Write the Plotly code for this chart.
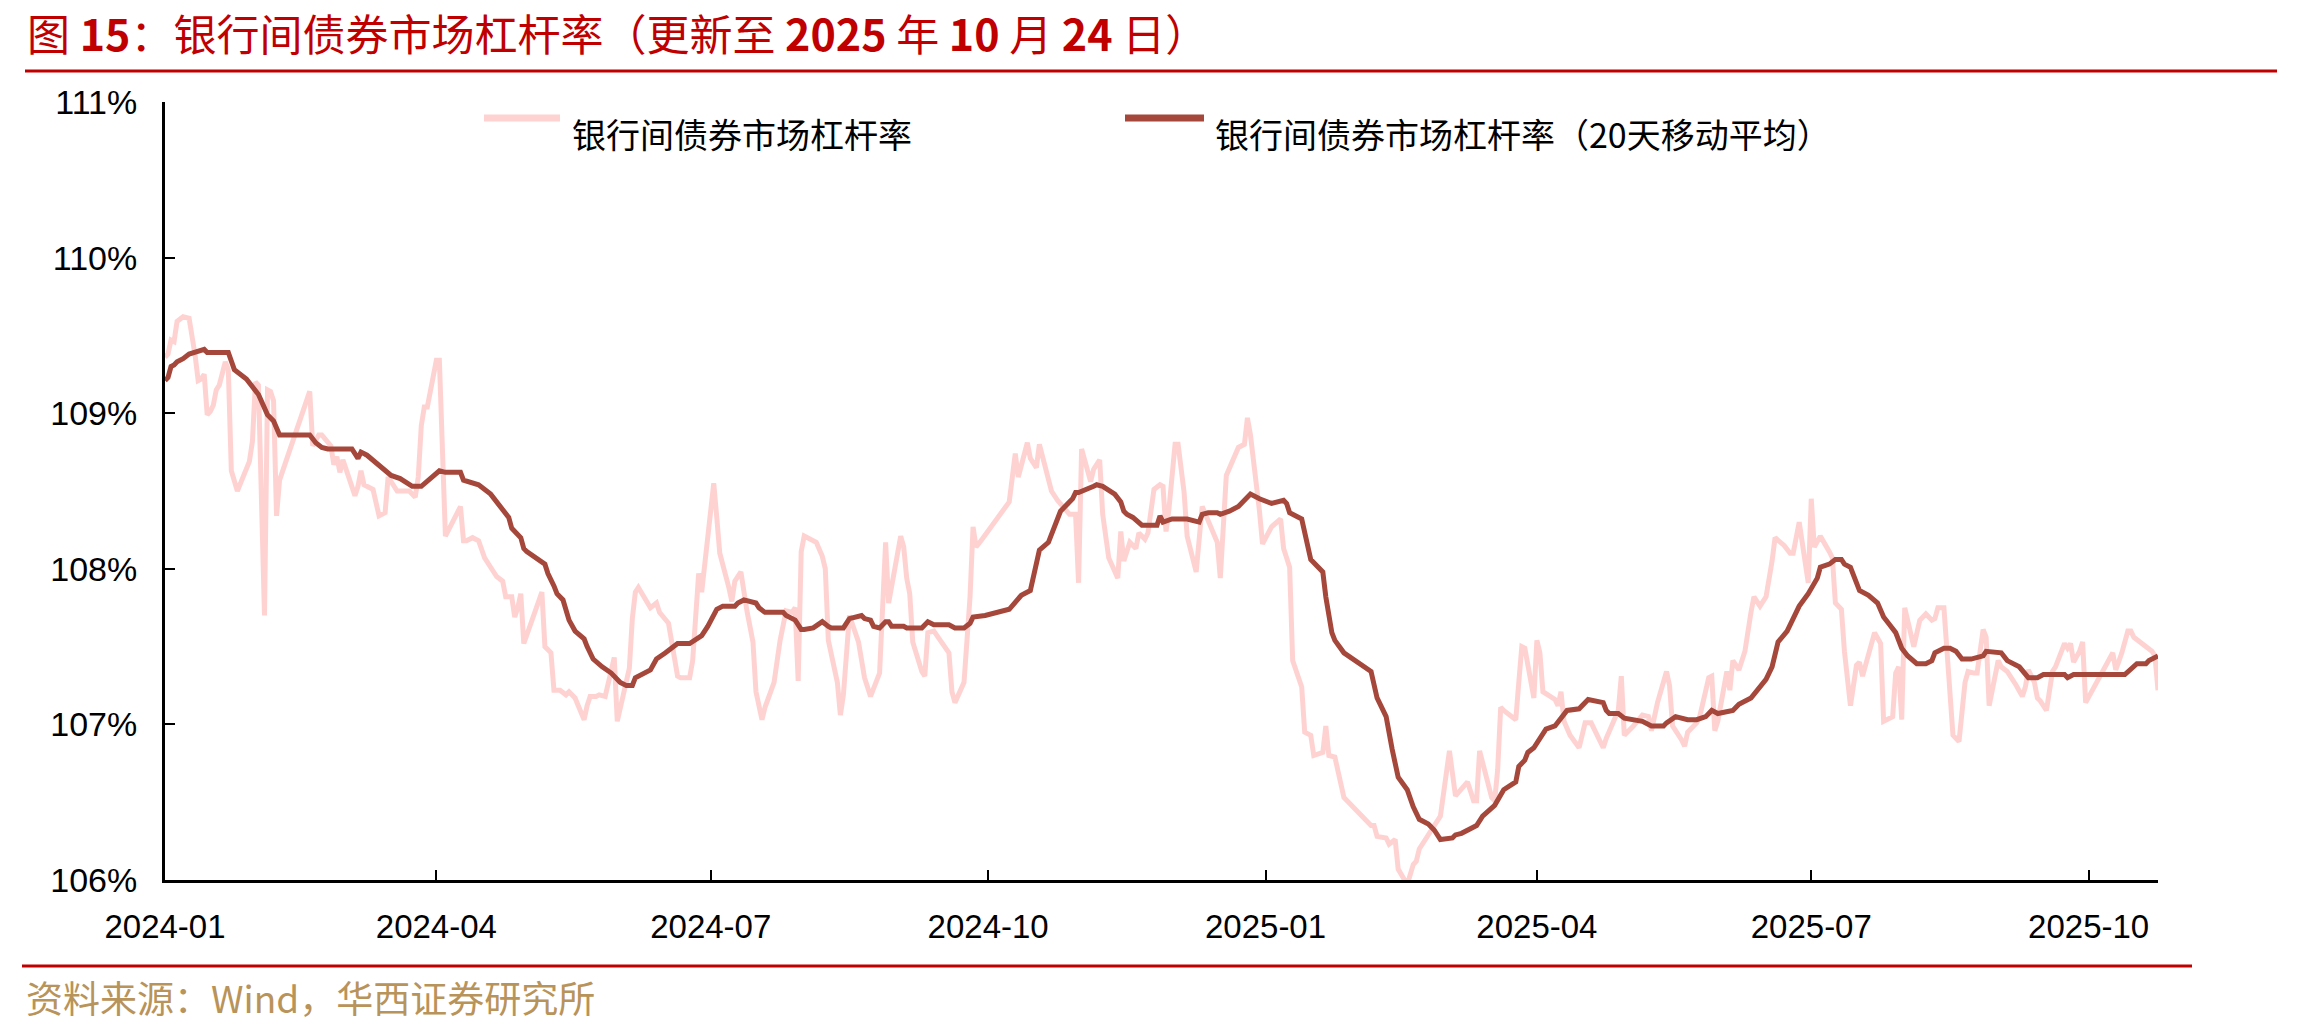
import plotly.graph_objects as go

# ---------------- data ----------------
raw_dates = [
    "2024-01-02","2024-01-03","2024-01-04","2024-01-05","2024-01-06","2024-01-08","2024-01-10","2024-01-11",
    "2024-01-12","2024-01-13","2024-01-14","2024-01-15","2024-01-16","2024-01-17","2024-01-18","2024-01-19",
    "2024-01-20","2024-01-22","2024-01-23","2024-01-24","2024-01-26","2024-01-30","2024-01-31","2024-02-01",
    "2024-02-02","2024-02-04","2024-02-05","2024-02-06","2024-02-07","2024-02-08","2024-02-09","2024-02-19",
    "2024-02-20","2024-02-22","2024-02-23","2024-02-26","2024-02-27","2024-02-28","2024-02-29","2024-03-01",
    "2024-03-05","2024-03-06","2024-03-07","2024-03-08","2024-03-11","2024-03-13","2024-03-15","2024-03-16",
    "2024-03-19","2024-03-21","2024-03-23","2024-03-25","2024-03-26","2024-03-27","2024-03-28","2024-03-29",
    "2024-04-01","2024-04-02","2024-04-04","2024-04-09","2024-04-10","2024-04-11","2024-04-13","2024-04-15",
    "2024-04-17","2024-04-19","2024-04-21","2024-04-23","2024-04-24","2024-04-26","2024-04-27","2024-04-28",
    "2024-04-29","2024-04-30","2024-05-06","2024-05-07","2024-05-09","2024-05-10","2024-05-12","2024-05-14",
    "2024-05-15","2024-05-17","2024-05-20","2024-05-21","2024-05-22","2024-05-24","2024-05-25","2024-05-27",
    "2024-05-29","2024-05-30","2024-05-31","2024-06-04","2024-06-05","2024-06-06","2024-06-07","2024-06-11",
    "2024-06-13","2024-06-14","2024-06-17","2024-06-18","2024-06-20","2024-06-21","2024-06-24","2024-06-25",
    "2024-06-26","2024-06-27","2024-06-28","2024-06-30","2024-07-02","2024-07-03","2024-07-04","2024-07-07",
    "2024-07-08","2024-07-09","2024-07-11","2024-07-13","2024-07-15","2024-07-16","2024-07-18","2024-07-19",
    "2024-07-22","2024-07-24","2024-07-26","2024-07-28","2024-07-29","2024-07-30","2024-07-31","2024-08-01",
    "2024-08-05","2024-08-07","2024-08-08","2024-08-09","2024-08-12","2024-08-13","2024-08-14","2024-08-16",
    "2024-08-19","2024-08-21","2024-08-23","2024-08-26","2024-08-28","2024-08-29","2024-09-02","2024-09-03",
    "2024-09-04","2024-09-05","2024-09-06","2024-09-09","2024-09-10","2024-09-11","2024-09-13","2024-09-18",
    "2024-09-19","2024-09-20","2024-09-23","2024-09-25","2024-09-26","2024-09-27","2024-09-29","2024-10-08",
    "2024-10-10","2024-10-11","2024-10-14","2024-10-15","2024-10-17","2024-10-18","2024-10-20","2024-10-21",
    "2024-10-22","2024-10-24","2024-10-28","2024-10-30","2024-10-31","2024-11-01","2024-11-04","2024-11-05",
    "2024-11-07","2024-11-08","2024-11-10","2024-11-13","2024-11-14","2024-11-15","2024-11-17","2024-11-19",
    "2024-11-20","2024-11-22","2024-11-23","2024-11-25","2024-11-27","2024-11-28","2024-11-29","2024-11-30",
    "2024-12-02","2024-12-03","2024-12-05","2024-12-06","2024-12-09","2024-12-11","2024-12-16","2024-12-17",
    "2024-12-19","2024-12-23","2024-12-25","2024-12-26","2024-12-27","2024-12-30","2024-12-31","2025-01-03",
    "2025-01-06","2025-01-07","2025-01-09","2025-01-10","2025-01-13","2025-01-14","2025-01-16","2025-01-17",
    "2025-01-20","2025-01-21","2025-01-22","2025-01-24","2025-01-27","2025-02-05","2025-02-06","2025-02-07",
    "2025-02-10","2025-02-11","2025-02-13","2025-02-14","2025-02-17","2025-02-19","2025-02-20","2025-02-21",
    "2025-02-26","2025-02-28","2025-03-03","2025-03-05","2025-03-09","2025-03-11","2025-03-12","2025-03-13",
    "2025-03-17","2025-03-18","2025-03-19","2025-03-20","2025-03-21","2025-03-25","2025-03-26","2025-03-27",
    "2025-03-28","2025-03-31","2025-04-01","2025-04-02","2025-04-03","2025-04-07","2025-04-08","2025-04-09",
    "2025-04-10","2025-04-11","2025-04-12","2025-04-15","2025-04-16","2025-04-17","2025-04-19","2025-04-23",
    "2025-04-24","2025-04-28","2025-04-29","2025-04-30","2025-05-03","2025-05-06","2025-05-08","2025-05-09",
    "2025-05-11","2025-05-13","2025-05-14","2025-05-15","2025-05-16","2025-05-19","2025-05-20","2025-05-21",
    "2025-05-24","2025-05-25","2025-05-27","2025-05-28","2025-05-29","2025-05-30","2025-05-31","2025-06-03",
    "2025-06-04","2025-06-05","2025-06-07","2025-06-09","2025-06-11","2025-06-12","2025-06-14","2025-06-16",
    "2025-06-18","2025-06-19","2025-06-22","2025-06-24","2025-06-25","2025-06-27","2025-06-30","2025-07-01",
    "2025-07-02","2025-07-04","2025-07-07","2025-07-08","2025-07-09","2025-07-11","2025-07-12","2025-07-14",
    "2025-07-16","2025-07-17","2025-07-18","2025-07-22","2025-07-24","2025-07-25","2025-07-28","2025-07-29",
    "2025-07-30","2025-07-31","2025-08-01","2025-08-04","2025-08-06","2025-08-08","2025-08-10","2025-08-11",
    "2025-08-12","2025-08-14","2025-08-17","2025-08-19","2025-08-21","2025-08-22","2025-08-24","2025-08-25",
    "2025-08-27","2025-08-28","2025-08-29","2025-09-01","2025-09-02","2025-09-04","2025-09-07","2025-09-09",
    "2025-09-10","2025-09-11","2025-09-13","2025-09-14","2025-09-15","2025-09-17","2025-09-19","2025-09-20",
    "2025-09-23","2025-09-24","2025-09-25","2025-09-26","2025-09-28","2025-09-29","2025-09-30","2025-10-09",
    "2025-10-10","2025-10-12","2025-10-14","2025-10-15","2025-10-16","2025-10-18","2025-10-20","2025-10-22",
    "2025-10-23","2025-10-24",
]
raw_values = [
    109.36,109.38,109.47,109.46,109.59,109.62,109.61,109.51,
    109.37,109.21,109.22,109.25,108.99,109.01,109.05,109.15,
    109.18,109.33,109.28,108.63,108.50,108.69,108.82,109.20,
    109.18,107.70,109.15,109.14,109.08,108.34,108.57,109.14,
    108.79,108.86,108.86,108.79,108.67,108.72,108.62,108.70,
    108.47,108.53,108.63,108.54,108.51,108.34,108.36,108.59,
    108.50,108.50,108.50,108.46,108.59,108.92,109.04,109.04,
    109.34,109.34,108.21,108.40,108.18,108.18,108.20,108.18,
    108.07,108.01,107.95,107.92,107.82,107.82,107.69,107.75,
    107.84,107.52,107.85,107.50,107.46,107.22,107.22,107.19,
    107.21,107.17,107.03,107.12,107.18,107.18,107.19,107.18,
    107.33,107.43,107.02,107.36,107.68,107.85,107.88,107.75,
    107.78,107.72,107.65,107.53,107.31,107.30,107.30,107.41,
    107.65,107.97,107.85,108.20,108.55,108.33,108.10,107.88,
    107.79,107.92,107.98,107.73,107.53,107.21,107.03,107.11,
    107.27,107.54,107.73,107.72,107.75,107.28,108.11,108.21,
    108.17,108.08,108.00,107.54,107.27,107.06,107.19,107.70,
    107.53,107.30,107.18,107.33,108.17,107.78,108.21,108.14,
    107.94,107.84,107.53,107.34,107.31,107.59,107.60,107.46,
    107.21,107.14,107.27,107.82,108.27,108.14,108.19,108.43,
    108.74,108.59,108.81,108.71,108.65,108.80,108.65,108.60,
    108.50,108.44,108.35,108.35,107.91,108.77,108.56,108.64,
    108.70,108.35,108.07,107.94,108.24,108.05,108.17,108.13,
    108.23,108.19,108.23,108.51,108.54,108.53,108.24,108.39,
    108.80,108.80,108.49,108.21,107.98,108.40,108.17,107.94,
    108.60,108.78,108.80,108.97,108.86,108.37,108.16,108.27,
    108.32,108.13,108.01,107.41,107.24,106.95,106.93,106.80,
    106.82,106.99,106.80,106.79,106.53,106.35,106.35,106.28,
    106.27,106.23,106.26,106.07,105.97,106.10,106.12,106.20,
    106.36,106.41,106.83,106.54,106.63,106.51,106.51,106.83,
    106.53,106.51,106.71,107.11,107.09,107.03,107.27,107.50,
    107.49,107.17,107.54,107.46,107.21,107.16,107.12,107.21,
    107.02,106.98,106.93,106.85,106.95,107.01,107.01,106.85,
    106.91,107.09,107.31,106.93,106.99,107.06,107.05,106.96,
    107.14,107.28,107.34,107.25,106.99,106.90,106.86,106.95,
    107.01,107.05,107.21,107.30,107.31,106.96,107.02,107.34,
    107.22,107.41,107.35,107.47,107.72,107.82,107.76,107.82,
    108.05,108.20,108.15,108.10,108.10,108.30,107.91,108.45,
    108.14,108.21,108.11,108.07,107.78,107.74,107.47,107.12,
    107.38,107.40,107.31,107.59,107.52,107.02,107.05,107.33,
    107.37,107.03,107.75,107.50,107.67,107.71,107.67,107.68,
    107.75,107.75,106.93,106.89,107.27,107.34,107.33,107.33,
    107.61,107.56,107.12,107.41,107.37,107.34,107.25,107.18,
    107.24,107.35,107.27,107.17,107.15,107.09,107.34,107.37,
    107.52,107.49,107.52,107.40,107.47,107.53,107.14,107.46,
    107.35,107.46,107.60,107.60,107.56,107.53,107.49,107.47,
    107.44,107.22,
]

ma_dates = [
    "2024-01-02","2024-01-03","2024-01-04","2024-01-05","2024-01-06","2024-01-08","2024-01-10","2024-01-14",
    "2024-01-15","2024-01-16","2024-01-23","2024-01-25","2024-01-29","2024-01-31","2024-02-02","2024-02-05",
    "2024-02-07","2024-02-09","2024-02-19","2024-02-21","2024-02-23","2024-02-25","2024-03-04","2024-03-06",
    "2024-03-07","2024-03-09","2024-03-13","2024-03-15","2024-03-17","2024-03-20","2024-03-22","2024-03-24",
    "2024-03-27","2024-04-02","2024-04-04","2024-04-09","2024-04-10","2024-04-13","2024-04-15","2024-04-19",
    "2024-04-21","2024-04-23","2024-04-25","2024-04-26","2024-04-29","2024-04-30","2024-05-01","2024-05-07",
    "2024-05-08","2024-05-10","2024-05-11","2024-05-13","2024-05-15","2024-05-17","2024-05-20","2024-05-21",
    "2024-05-23","2024-05-26","2024-05-29","2024-06-01","2024-06-03","2024-06-05","2024-06-06","2024-06-11",
    "2024-06-13","2024-06-16","2024-06-20","2024-06-24","2024-06-28","2024-06-30","2024-07-02","2024-07-03",
    "2024-07-05","2024-07-09","2024-07-10","2024-07-12","2024-07-16","2024-07-17","2024-07-19","2024-07-25",
    "2024-07-26","2024-07-29","2024-07-31","2024-08-01","2024-08-04","2024-08-07","2024-08-09","2024-08-10",
    "2024-08-13","2024-08-14","2024-08-16","2024-08-20","2024-08-21","2024-08-23","2024-08-24","2024-08-26",
    "2024-08-28","2024-08-29","2024-08-30","2024-09-03","2024-09-04","2024-09-09","2024-09-11","2024-09-13",
    "2024-09-18","2024-09-20","2024-09-23","2024-09-25","2024-09-26","2024-09-30","2024-10-08","2024-10-10",
    "2024-10-12","2024-10-15","2024-10-17","2024-10-18","2024-10-21","2024-10-25","2024-10-29","2024-10-30",
    "2024-10-31","2024-11-03","2024-11-05","2024-11-06","2024-11-08","2024-11-12","2024-11-14","2024-11-15",
    "2024-11-16","2024-11-18","2024-11-20","2024-11-21","2024-11-26","2024-11-27","2024-11-28","2024-12-01",
    "2024-12-06","2024-12-10","2024-12-11","2024-12-13","2024-12-16","2024-12-17","2024-12-20","2024-12-23",
    "2024-12-27","2024-12-30","2025-01-03","2025-01-07","2025-01-08","2025-01-09","2025-01-13","2025-01-14",
    "2025-01-16","2025-01-20","2025-01-21","2025-01-23","2025-01-24","2025-01-27","2025-02-05","2025-02-07",
    "2025-02-10","2025-02-12","2025-02-14","2025-02-17","2025-02-19","2025-02-21","2025-02-24","2025-02-26",
    "2025-02-28","2025-03-04","2025-03-05","2025-03-07","2025-03-10","2025-03-12","2025-03-14","2025-03-16",
    "2025-03-18","2025-03-21","2025-03-25","2025-03-26","2025-03-28","2025-03-29","2025-03-31","2025-04-04",
    "2025-04-07","2025-04-11","2025-04-15","2025-04-18","2025-04-23","2025-04-24","2025-04-25","2025-04-28",
    "2025-04-30","2025-05-06","2025-05-09","2025-05-13","2025-05-14","2025-05-17","2025-05-21","2025-05-24",
    "2025-05-27","2025-05-29","2025-05-31","2025-06-05","2025-06-07","2025-06-11","2025-06-13","2025-06-16",
    "2025-06-18","2025-06-20","2025-06-23","2025-06-27","2025-06-30","2025-07-03","2025-07-04","2025-07-07",
    "2025-07-09","2025-07-11","2025-07-12","2025-07-14","2025-07-17","2025-07-20","2025-07-23","2025-07-25",
    "2025-07-27","2025-07-29","2025-07-31","2025-08-02","2025-08-05","2025-08-08","2025-08-10","2025-08-11",
    "2025-08-14","2025-08-16","2025-08-18","2025-08-20","2025-08-23","2025-08-25","2025-08-27","2025-08-28",
    "2025-09-02","2025-09-04","2025-09-06","2025-09-08","2025-09-11","2025-09-14","2025-09-16","2025-09-23",
    "2025-09-24","2025-09-26","2025-10-13","2025-10-17","2025-10-20","2025-10-21","2025-10-24",
]
ma_values = [
    109.21,109.23,109.30,109.31,109.33,109.35,109.38,109.40,
    109.41,109.39,109.39,109.28,109.22,109.17,109.12,108.99,
    108.95,108.86,108.86,108.81,108.78,108.77,108.77,108.71,
    108.75,108.73,108.67,108.63,108.60,108.58,108.55,108.53,
    108.53,108.63,108.62,108.62,108.57,108.55,108.54,108.48,
    108.43,108.38,108.33,108.26,108.20,108.13,108.11,108.03,
    107.97,107.89,107.84,107.80,107.67,107.60,107.55,107.50,
    107.42,107.37,107.33,107.27,107.25,107.25,107.30,107.35,
    107.42,107.46,107.52,107.52,107.57,107.63,107.70,107.74,
    107.76,107.76,107.78,107.80,107.78,107.75,107.72,107.72,
    107.70,107.67,107.61,107.61,107.62,107.66,107.63,107.62,
    107.62,107.62,107.68,107.70,107.68,107.67,107.63,107.62,
    107.66,107.66,107.63,107.63,107.62,107.62,107.66,107.64,
    107.64,107.62,107.62,107.65,107.69,107.70,107.74,107.78,
    107.83,107.86,108.05,108.12,108.17,108.37,108.45,108.49,
    108.49,108.51,108.53,108.54,108.53,108.48,108.43,108.37,
    108.35,108.33,108.29,108.28,108.28,108.34,108.30,108.32,
    108.32,108.30,108.35,108.36,108.36,108.35,108.37,108.40,
    108.48,108.45,108.42,108.44,108.42,108.36,108.32,108.23,
    108.06,107.98,107.82,107.59,107.54,107.46,107.34,107.17,
    107.05,106.84,106.66,106.58,106.47,106.39,106.36,106.32,
    106.26,106.27,106.29,106.30,106.33,106.35,106.41,106.44,
    106.48,106.58,106.63,106.73,106.77,106.82,106.85,106.97,
    106.99,107.09,107.10,107.16,107.14,107.09,107.07,107.07,
    107.04,107.02,106.99,106.99,107.01,107.05,107.03,107.03,
    107.05,107.09,107.07,107.09,107.13,107.17,107.22,107.29,
    107.37,107.53,107.60,107.76,107.84,107.94,108.01,108.03,
    108.06,108.06,108.03,108.01,107.86,107.83,107.78,107.69,
    107.64,107.59,107.49,107.44,107.39,107.39,107.41,107.46,
    107.49,107.49,107.47,107.42,107.42,107.43,107.44,107.47,
    107.46,107.41,107.39,107.37,107.30,107.30,107.32,107.32,
    107.30,107.32,107.32,107.39,107.39,107.41,107.44,
]

series_names = ["银行间债券市场杠杆率", "银行间债券市场杠杆率（20天移动平均）"]
x_tick_dates = ["2024-01-02", "2024-04-01", "2024-07-01", "2024-10-01",
                "2025-01-01", "2025-04-01", "2025-07-01", "2025-10-01"]
x_tick_labels = ["2024-01", "2024-04", "2024-07", "2024-10",
                 "2025-01", "2025-04", "2025-07", "2025-10"]
y_tick_values = [106, 107, 108, 109, 110, 111]
y_tick_labels = ["106%", "107%", "108%", "109%", "110%", "111%"]

title_text = "图 <b>15</b>：银行间债券市场杠杆率（更新至 <b>2025</b> 年 <b>10</b> 月 <b>24</b> 日）"
source_text = "资料来源：Wind，华西证券研究所"

# ---------------- styling / layout ----------------
W, H = 2306, 1029
L, R, T, B = 165, 148, 102, 149
PW, PH = W - L - R, H - T - B

def px_x(px):
    return (px - L) / PW

def px_y(py):
    return (H - B - py) / PH

PINK = "#FFD2D2"
BROWN = "#A5473A"
RED = "#C00000"
GOLD = "#B8935A"
LAT = "Liberation Sans, Arial, Noto Sans CJK SC, sans-serif"
CJK = "Noto Sans CJK SC, Liberation Sans, sans-serif"

fig = go.Figure()
fig.add_trace(go.Scatter(x=raw_dates, y=raw_values, mode="lines", name=series_names[0],
                         line=dict(color=PINK, width=5), showlegend=False))
fig.add_trace(go.Scatter(x=ma_dates, y=ma_values, mode="lines", name=series_names[1],
                         line=dict(color=BROWN, width=5), showlegend=False))

shapes = [
    # red rule under title
    dict(type="line", xref="paper", yref="paper", x0=px_x(25), x1=px_x(2277),
         y0=px_y(71), y1=px_y(71), line=dict(color=RED, width=3)),
    # red rule above source
    dict(type="line", xref="paper", yref="paper", x0=px_x(22), x1=px_x(2192),
         y0=px_y(966), y1=px_y(966), line=dict(color=RED, width=3)),
    # legend swatches
    dict(type="line", xref="paper", yref="paper", x0=px_x(484), x1=px_x(560),
         y0=px_y(118), y1=px_y(118), line=dict(color=PINK, width=7)),
    dict(type="line", xref="paper", yref="paper", x0=px_x(1125), x1=px_x(1204),
         y0=px_y(118), y1=px_y(118), line=dict(color=BROWN, width=7)),
]

annotations = [
    dict(xref="paper", yref="paper", x=px_x(25), y=px_y(32), xanchor="left", yanchor="middle",
         text=title_text, showarrow=False, font=dict(family=CJK, size=43, color=RED)),
    dict(xref="paper", yref="paper", x=px_x(24), y=px_y(997), xanchor="left", yanchor="middle",
         text=source_text, showarrow=False, font=dict(family=CJK, size=37, color=GOLD)),
    dict(xref="paper", yref="paper", x=px_x(570), y=px_y(133), xanchor="left", yanchor="middle",
         text=series_names[0], showarrow=False, font=dict(family=CJK, size=34, color="black")),
    dict(xref="paper", yref="paper", x=px_x(1213), y=px_y(133), xanchor="left", yanchor="middle",
         text=series_names[1], showarrow=False, font=dict(family=CJK, size=34, color="black")),
]

fig.update_layout(
    width=W, height=H, autosize=False,
    margin=dict(l=L, r=R, t=T, b=B, pad=0),
    paper_bgcolor="white", plot_bgcolor="white",
    showlegend=False,
    shapes=shapes, annotations=annotations,
    font=dict(family=LAT, size=33, color="black"),
)
fig.update_xaxes(
    type="date", range=["2024-01-02", "2025-10-24"],
    tickmode="array", tickvals=x_tick_dates, ticktext=x_tick_labels,
    showgrid=False, zeroline=False,
    showline=True, linecolor="black", linewidth=3,
    ticks="inside", ticklen=10, tickwidth=2, tickcolor="black",
    tickfont=dict(family=LAT, size=33, color="black"),
    ticklabelstandoff=15,
)
fig.update_yaxes(
    range=[106, 111],
    tickmode="array", tickvals=y_tick_values, ticktext=y_tick_labels,
    showgrid=False, zeroline=False,
    showline=True, linecolor="black", linewidth=3,
    ticks="inside", ticklen=10, tickwidth=2, tickcolor="black",
    tickfont=dict(family=LAT, size=34, color="black"),
    ticklabelstandoff=18,
)

fig.write_html("out.html")
